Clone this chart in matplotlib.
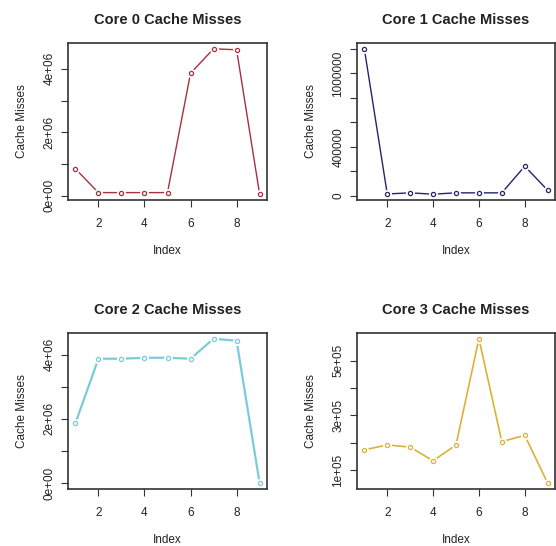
import numpy as np
import matplotlib.pyplot as plt

plt.rcParams['font.family'] = ['Liberation Sans', 'DejaVu Sans']

idx = np.arange(1, 10)
core0 = [0.85e6, 0.1e6, 0.1e6, 0.1e6, 0.1e6, 3.86e6, 4.63e6, 4.6e6, 0.05e6]
core1 = [1.2e6, 16000, 25000, 14000, 25000, 25000, 25000, 242000, 46000]
core2 = [1.86e6, 3.87e6, 3.87e6, 3.9e6, 3.9e6, 3.87e6, 4.49e6, 4.43e6, 0.0]
core3 = [1.74e5, 1.92e5, 1.84e5, 1.34e5, 1.92e5, 5.8e5, 2.04e5, 2.27e5, 0.52e5]

series = [core0, core1, core2, core3]
titles = ['Core 0 Cache Misses', 'Core 1 Cache Misses',
          'Core 2 Cache Misses', 'Core 3 Cache Misses']
colors = ['#a8303f', '#25256a', '#7ccbdb', '#dab23a']
widths = [1.0, 1.0, 1.6, 1.2]

yticks = [
    ([0, 1e6, 2e6, 3e6, 4e6], ['0e+00', '', '2e+06', '', '4e+06']),
    ([0, 2e5, 4e5, 6e5, 8e5, 1e6, 1.2e6], ['0', '', '400000', '', '', '1000000', '']),
    ([0, 1e6, 2e6, 3e6, 4e6], ['0e+00', '', '2e+06', '', '4e+06']),
    ([1e5, 2e5, 3e5, 4e5, 5e5], ['1e+05', '', '3e+05', '', '5e+05']),
]

W, H = 556, 546
fig = plt.figure(figsize=(W / 100, H / 100), dpi=100)

# box positions in pixels: left, top, right, bottom
boxes = [(68, 43, 267, 200), (357, 43, 555, 200),
         (68, 333, 267, 489), (357, 333, 555, 489)]

for k in range(4):
    l, t, r, b = boxes[k]
    ax = fig.add_axes([l / W, (H - b) / H, (r - l) / W, (b - t) / H])
    y = np.array(series[k])
    ax.plot(idx, y, color=colors[k], lw=widths[k], zorder=1)
    ax.plot(idx, y, 'o', ms=6.5, mfc='white', mec='none', zorder=2)
    ax.plot(idx, y, 'o', ms=3.0, mfc='white', mec=colors[k], mew=0.9, zorder=3)

    span = idx.max() - idx.min()
    ax.set_xlim(idx.min() - 0.04 * span, idx.max() + 0.04 * span)
    ys = y.max() - y.min()
    ax.set_ylim(y.min() - 0.04 * ys, y.max() + 0.04 * ys)

    ax.set_xticks([2, 4, 6, 8])
    ax.set_xticklabels(['2', '4', '6', '8'], fontsize=8.5, color='#222222')
    tv, tl = yticks[k]
    ax.set_yticks(tv)
    ax.set_yticklabels(tl, fontsize=8.5, rotation=90, va='center', color='#222222')
    ax.tick_params(axis='x', length=5, width=0.8, color='#333333', pad=8)
    ax.tick_params(axis='y', length=5, width=0.8, color='#333333', pad=4)

    for s in ax.spines.values():
        s.set_linewidth(1.2)
        s.set_color('#333333')

    ax.set_title(titles[k], fontsize=10.5, fontweight='bold', color='#222222', pad=14)
    ax.set_xlabel('Index', fontsize=8.5, color='#222222', labelpad=11)
    ax.set_ylabel('Cache Misses', fontsize=8.5, color='#222222', labelpad=11)

fig.savefig('out.png', dpi=100)
